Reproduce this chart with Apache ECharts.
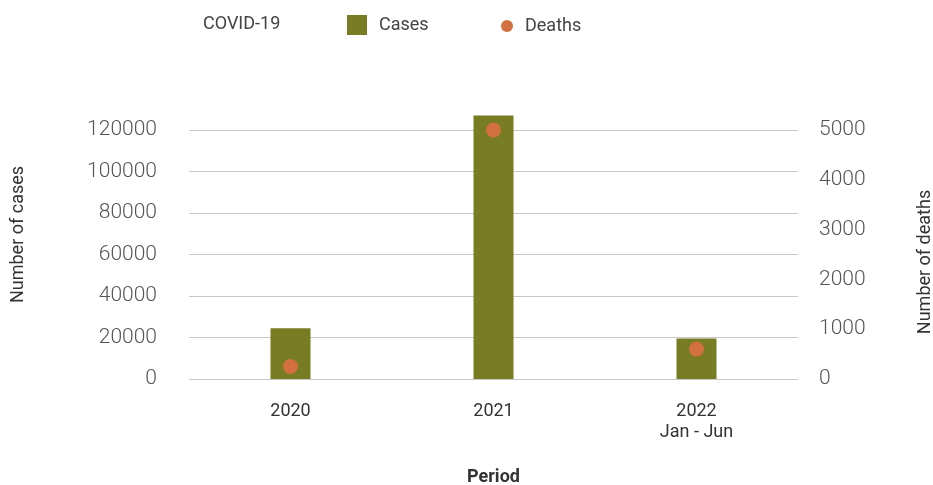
<!DOCTYPE html>
<html>
<head>
<meta charset="utf-8">
<script src="https://cdn.jsdelivr.net/npm/echarts@6/dist/echarts.min.js"></script>
<style>
  html, body { margin: 0; padding: 0; background: #fff; }
  #chart { width: 933px; height: 485px; }
</style>
</head>
<body>
<div id="chart"></div>
<script>
// data
const periods = ['2020', '2021', '2022\nJan - Jun']
const cases = [24500, 127000, 19500]
const deaths = [250, 5000, 600]

const chart = echarts.init(document.getElementById('chart'))

chart.setOption({
  textStyle: { fontFamily: 'Roboto' },
  title: {
    text: 'COVID-19',
    left: 203,
    top: 15,
    padding: 0,
    textStyle: { fontSize: 18, fontWeight: 'normal', color: '#444' }
  },
  legend: [{
    data: ['Cases'],
    icon: 'rect',
    left: 347,
    top: 15,
    padding: 0,
    itemWidth: 20,
    itemHeight: 20,
    textStyle: { fontSize: 18, color: '#444', padding: [0, 0, 0, 7] }
  }, {
    data: ['Deaths'],
    icon: 'circle',
    left: 501,
    top: 17,
    padding: 0,
    itemWidth: 12,
    itemHeight: 12,
    textStyle: { fontSize: 18, color: '#444', padding: [0, 0, 0, 7] }
  }],
  grid: {
    left: 189,
    right: 135,
    top: 130,
    bottom: 106,
    outerBoundsMode: 'none'
  },
  xAxis: {
    type: 'category',
    data: periods,
    name: 'Period',
    nameLocation: 'middle',
    nameGap: 89,
    nameTextStyle: { fontSize: 18, fontWeight: 'bold', color: '#333' },
    axisLine: { lineStyle: { color: '#c8c8c8' } },
    axisTick: { show: false },
    axisLabel: { fontSize: 18, color: '#333', margin: 22, lineHeight: 21 }
  },
  yAxis: [{
    type: 'value',
    min: 0,
    max: 120000,
    interval: 20000,
    name: 'Number of cases',
    nameLocation: 'middle',
    nameGap: 162,
    nameTextStyle: { fontSize: 18, color: '#333', padding: [0, 0, 0, 40] },
    axisLine: { show: false },
    axisTick: { show: false },
    axisLabel: { fontSize: 21, fontWeight: 300, color: '#555', margin: 32, formatter: v => String(v) },
    splitLine: { lineStyle: { color: '#c8c8c8', width: 1 } }
  }, {
    type: 'value',
    min: 0,
    max: 5000,
    interval: 1000,
    name: 'Number of deaths',
    nameLocation: 'middle',
    nameGap: 118,
    nameTextStyle: { fontSize: 18, color: '#333', padding: [0, 15, 0, 0] },
    axisLine: { show: false },
    axisTick: { show: false },
    axisLabel: { fontSize: 21, fontWeight: 300, color: '#555', margin: 21, formatter: v => String(v) },
    splitLine: { show: false }
  }],
  series: [{
    name: 'Cases',
    type: 'bar',
    data: cases,
    barWidth: 40,
    clip: false,
    itemStyle: { color: '#787d23' }
  }, {
    name: 'Deaths',
    type: 'scatter',
    yAxisIndex: 1,
    data: deaths,
    symbolSize: 15,
    clip: false,
    itemStyle: { color: '#d2703f', opacity: 1 }
  }]
})
</script>
</body>
</html>
